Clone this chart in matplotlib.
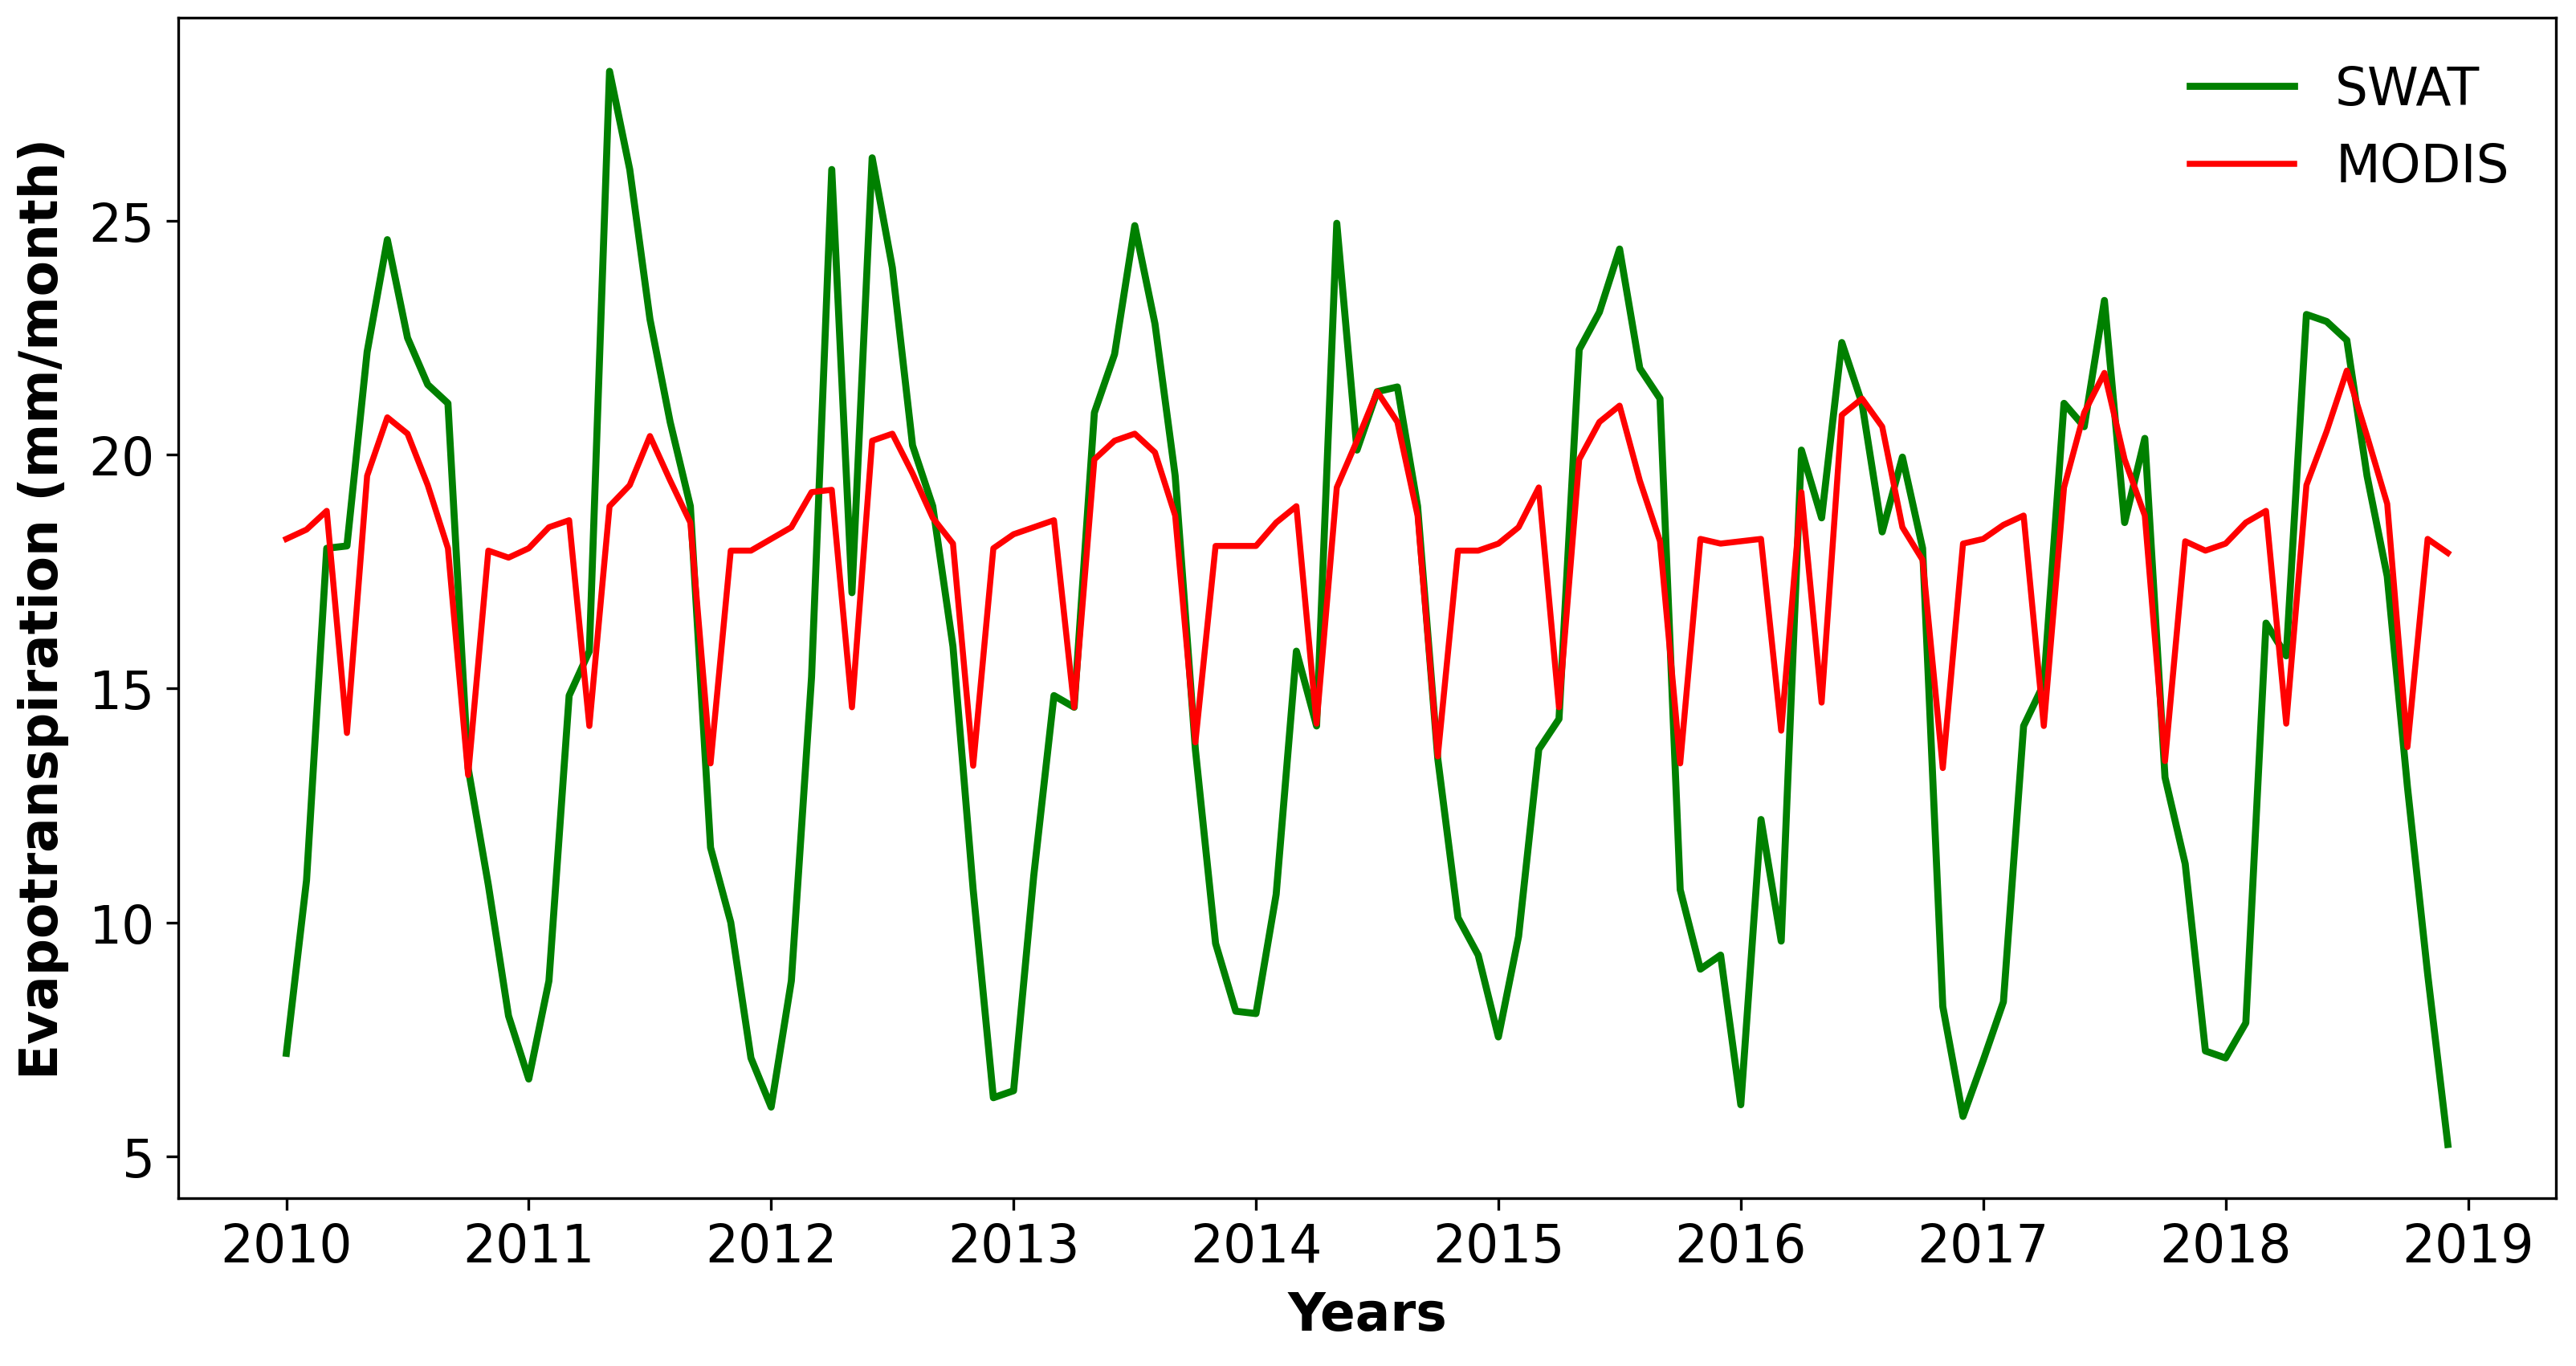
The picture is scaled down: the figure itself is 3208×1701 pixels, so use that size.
from matplotlib import pyplot as plt
import numpy as np

# monthly ET, Jan 2010 .. Dec 2018
swat = [7.2, 10.9, 18.0, 18.05, 22.2, 24.6, 22.5, 21.5, 21.1, 13.3, 10.8, 8.0,
        6.65, 8.75, 14.85, 15.8, 28.2, 26.1, 22.9, 20.7, 18.9, 11.6, 10.0, 7.1,
        6.05, 8.75, 15.25, 26.1, 17.05, 26.35, 24.0, 20.2, 18.9, 15.9, 10.7, 6.25,
        6.4, 11.0, 14.85, 14.6, 20.9, 22.15, 24.9, 22.8, 19.55, 13.7, 9.55, 8.1,
        8.05, 10.6, 15.8, 14.2, 24.95, 20.1, 21.35, 21.45, 18.9, 13.5, 10.1, 9.3,
        7.55, 9.7, 13.7, 14.35, 22.25, 23.05, 24.4, 21.85, 21.2, 10.7, 9.0, 9.3,
        6.1, 12.2, 9.6, 20.1, 18.65, 22.4, 21.1, 18.35, 19.95, 18.0, 8.2, 5.85,
        7.05, 8.3, 14.2, 15.1, 21.1, 20.6, 23.3, 18.55, 20.35, 13.1, 11.25, 7.25,
        7.1, 7.85, 16.4, 15.7, 23.0, 22.85, 22.45, 19.55, 17.4, 12.9, 8.9, 5.25]
modis = [18.2, 18.4, 18.8, 14.05, 19.55, 20.8, 20.45, 19.35, 18.0, 13.15, 17.95, 17.8,
         18.0, 18.45, 18.6, 14.2, 18.9, 19.35, 20.4, 19.45, 18.55, 13.4, 17.95, 17.95,
         18.2, 18.45, 19.2, 19.25, 14.6, 20.3, 20.45, 19.6, 18.65, 18.1, 13.35, 18.0,
         18.3, 18.45, 18.6, 14.6, 19.9, 20.3, 20.45, 20.05, 18.7, 13.85, 18.05, 18.05,
         18.05, 18.55, 18.9, 14.25, 19.3, 20.3, 21.35, 20.7, 18.7, 13.55, 17.95, 17.95,
         18.1, 18.45, 19.3, 14.6, 19.9, 20.7, 21.05, 19.45, 18.15, 13.4, 18.2, 18.1,
         18.15, 18.2, 14.1, 19.2, 14.7, 20.85, 21.2, 20.6, 18.45, 17.75, 13.3, 18.1,
         18.2, 18.5, 18.7, 14.2, 19.3, 20.9, 21.75, 19.9, 18.7, 13.45, 18.15, 17.95,
         18.1, 18.55, 18.8, 14.25, 19.35, 20.5, 21.8, 20.4, 18.95, 13.75, 18.2, 17.9]
years = list(range(2010, 2020))

t = 2010 + np.arange(len(swat)) / 12.0

plt.rcParams['font.family'] = 'DejaVu Sans'
fig = plt.figure(figsize=(3208 / 300, 1702 / 300), dpi=300)
ax = fig.add_axes([0.0692, 0.1228, 0.923, 0.8637])
ax.plot(t, swat, color='green', lw=2.1, label='SWAT')
ax.plot(t, modis, color='red', lw=1.8, label='MODIS')
ax.set_xticks(years)
ax.set_yticks([5, 10, 15, 20, 25])
ax.tick_params(labelsize=15.5)
ax.set_xlabel('Years', fontsize=15.5, fontweight='bold', labelpad=5)
ax.set_ylabel('Evapotranspiration (mm/month)', fontsize=15.5, fontweight='bold', labelpad=6)
ax.legend(loc='upper right', frameon=False, fontsize=15.5)
fig.savefig('out.png', dpi=300)
